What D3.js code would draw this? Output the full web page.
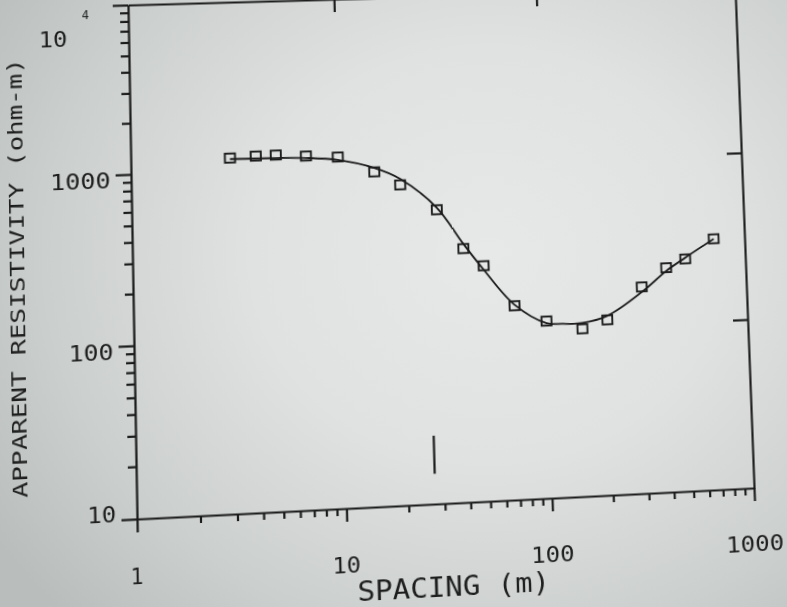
<!DOCTYPE html>
<html>
<head>
<meta charset="utf-8">
<script src="https://cdn.jsdelivr.net/npm/d3@7"></script>
<style>
  html, body { margin: 0; padding: 0; }
  body {
    width: 787px; height: 607px; overflow: hidden; position: relative;
    background: radial-gradient(ellipse 75% 85% at 62% 42%, #e7e9e8 0%, #e0e2e1 40%, #cbcfce 75%, #b9bebd 100%);
  }
  #sheet { position: absolute; left: 0; top: 0; transform-origin: 0 0; }
  #sheet svg { overflow: visible; display: block; }
  .lbl { font-family: "DejaVu Sans Mono", monospace; fill: #1e1e1e; }
</style>
</head>
<body>
<div id="sheet"></div>
<script>
// sounding data: spacing (m) vs apparent resistivity (ohm-m)
const obsSpacing = [3, 4, 5, 7, 10, 15, 20, 30, 40, 50, 70, 100, 150, 200, 300, 400, 500, 700];
const obsRho     = [1190, 1208, 1213, 1180, 1147, 920, 761, 532, 309, 242, 138, 110, 97, 108, 166, 213, 238, 309];

// fitted model curve
const fitSpacing = [3, 5, 7, 10, 15, 20, 30, 40, 50, 70, 100, 120, 150, 200, 300, 400, 500, 700];
const fitRho     = [1174, 1165, 1149, 1101, 971, 826, 547, 330, 229, 140, 107, 105, 105, 114, 155, 204, 242, 309];

// short vertical mark inside the plot
const markSpacing = [27];
const markRho = [15, 25];

const xMajor = [1, 10, 100, 1000];
const xLabels = ["1", "10", "100", "1000"];
const yMajor = [10, 100, 1000, 10000];
const yLabels = ["10", "100", "1000", "10"];
const topTicks = [10, 100];
const rightTicks = [100, 1000];

const W = 787, H = 607, PAD = 60;
// plot box in drawing coords, then bent onto the photographed (keystoned) frame
var SRC = { L: 132, T: -3, R: 745, B: 504 };
var QUAD = [[128, 5], [735, -12], [754, 488], [137, 519]]; // TL, TR, BR, BL
var INK = "#1b1b1b";
var CELL = 15.5;   // plotter character cell width

var squareToQuad = function( q )
{
    var x0 = q[0][0], y0 = q[0][1], x1 = q[1][0], y1 = q[1][1];
    var x2 = q[2][0], y2 = q[2][1], x3 = q[3][0], y3 = q[3][1];
    var dx1 = x1 - x2, dx2 = x3 - x2, dx3 = x0 - x1 + x2 - x3;
    var dy1 = y1 - y2, dy2 = y3 - y2, dy3 = y0 - y1 + y2 - y3;
    var den = dx1 * dy2 - dx2 * dy1;
    var g = (dx3 * dy2 - dx2 * dy3) / den;
    var h = (dx1 * dy3 - dx3 * dy1) / den;
    return [[x1 - x0 + g * x1, x3 - x0 + h * x3, x0],
            [y1 - y0 + g * y1, y3 - y0 + h * y3, y0],
            [g, h, 1]];
}

var mul = function( a, b )
{
    var r = [[0,0,0],[0,0,0],[0,0,0]];
    for (var i = 0; i < 3; i++)
        for (var j = 0; j < 3; j++)
            for (var k = 0; k < 3; k++)
                r[i][j] += a[i][k] * b[k][j];
    return r;
}

var applyKeystone = function()
{
    var w = SRC.R - SRC.L, h = SRC.B - SRC.T;
    // div-local coords -> unit square
    var S = [[1 / w, 0, (-SRC.L - PAD) / w],
             [0, 1 / h, (-SRC.T - PAD) / h],
             [0, 0, 1]];
    var M = mul(squareToQuad(QUAD), S);
    var m = [M[0][0], M[1][0], 0, M[2][0],
             M[0][1], M[1][1], 0, M[2][1],
             0, 0, 1, 0,
             M[0][2], M[1][2], 0, M[2][2]];
    d3.select("#sheet").style("transform", "matrix3d(" + m.join(",") + ")");
}

// stretch glyphs to the wide plotter cell
var plotterText = function( sel, size, cell )
{
    sel.attr("class", "lbl")
        .style("font-size", size + "px")
        .attr("lengthAdjust", "spacingAndGlyphs")
        .attr("textLength", function(){
            return this.textContent.length * cell - 3;
        });
}

var draw = function()
{
    var svg = d3.select("#sheet").append("svg")
        .attr("width", W + 2 * PAD)
        .attr("height", H + 2 * PAD);

    var g = svg.append("g")
        .attr("transform", "translate(" + PAD + "," + PAD + ")");

    var x = d3.scaleLog().domain([1, 1000]).range([SRC.L, SRC.R]);
    var y = d3.scaleLog().domain([10, 10000]).range([SRC.B, SRC.T]);

    var xMinor = x.ticks().filter(function(v){ return xMajor.indexOf(v) < 0; });
    var yMinor = y.ticks().filter(function(v){ return yMajor.indexOf(v) < 0; });

    var styleAxis = function( sel, keepDomain )
    {
        sel.attr("color", INK);
        sel.selectAll("line, path").attr("stroke-width", 2.2);
        if ( !keepDomain ) sel.select(".domain").remove();
    }

    // frame + ticks
    g.append("g").attr("transform", "translate(0," + SRC.B + ")")
        .call(d3.axisBottom(x).tickValues(xMajor).tickSize(13).tickSizeOuter(0).tickFormat(""))
        .call(styleAxis, true);
    g.append("g").attr("transform", "translate(0," + SRC.B + ")")
        .call(d3.axisBottom(x).tickValues(xMinor).tickSize(7).tickFormat(""))
        .call(styleAxis, false);
    g.append("g").attr("transform", "translate(" + SRC.L + ",0)")
        .call(d3.axisLeft(y).tickValues(yMajor).tickSize(15).tickSizeOuter(0).tickFormat(""))
        .call(styleAxis, true);
    g.append("g").attr("transform", "translate(" + SRC.L + ",0)")
        .call(d3.axisLeft(y).tickValues(yMinor).tickSize(8).tickFormat(""))
        .call(styleAxis, false);
    g.append("g").attr("transform", "translate(0," + SRC.T + ")")
        .call(d3.axisTop(x).tickValues(topTicks).tickSize(-13).tickSizeOuter(0).tickFormat(""))
        .call(styleAxis, true);
    g.append("g").attr("transform", "translate(" + SRC.R + ",0)")
        .call(d3.axisRight(y).tickValues(rightTicks).tickSize(-15).tickSizeOuter(0).tickFormat(""))
        .call(styleAxis, true);

    // x tick labels
    g.selectAll("text.xlab")
        .data(xMajor)
        .enter()
        .append("text")
        .text(function(d, i){ return xLabels[i]; })
        .call(plotterText, 21, CELL)
        .attr("x", function(d){ return x(d) - 1; })
        .attr("y", SRC.B + 63)
        .attr("text-anchor", "middle");

    // y tick labels (top one sits lower, plotter style, with exponent)
    var last = yMajor.length - 1;
    g.selectAll("text.ylab")
        .data(yMajor)
        .enter()
        .append("text")
        .text(function(d, i){ return yLabels[i]; })
        .call(plotterText, 21, CELL)
        .attr("x", function(d, i){ return i == last ? SRC.L - 60 : SRC.L - 20; })
        .attr("y", function(d, i){
            if ( i == 0 ) return y(d) - 5 + 7.5;
            if ( i == last ) return y(d) + 33 + 7.5;
            return y(d) + 6 + 7.5;
        })
        .attr("text-anchor", "end");

    g.append("text")
        .text("4")
        .call(plotterText, 13, 10)
        .attr("x", SRC.L - 42)
        .attr("y", SRC.T + 13)
        .attr("text-anchor", "middle");

    // axis titles
    g.append("text")
        .text("SPACING (m)")
        .call(plotterText, 26, 17.6)
        .attr("x", (SRC.L + SRC.R) / 2 + 2)
        .attr("y", SRC.B + 91)
        .attr("text-anchor", "middle");

    var ty = (SRC.T + SRC.B) / 2 + 12;
    g.append("text")
        .text("APPARENT RESISTIVITY (ohm-m)")
        .call(plotterText, 20, CELL)
        .attr("transform", "translate(" + (SRC.L - 112 + 7.3) + "," + ty + ") rotate(-90)")
        .attr("text-anchor", "middle");

    // fitted curve
    var fit = fitSpacing.map(function(s, i){ return [s, fitRho[i]]; });
    g.append("path")
        .datum(fit)
        .attr("fill", "none")
        .attr("stroke", INK)
        .attr("stroke-width", 1.8)
        .attr("d", d3.line()
              .x(function(d){ return x(d[0]); })
              .y(function(d){ return y(d[1]); })
              .curve(d3.curveCatmullRom));

    // observed points
    var obs = obsSpacing.map(function(s, i){ return [s, obsRho[i]]; });
    g.selectAll("rect.obs")
        .data(obs)
        .enter()
        .append("rect")
        .classed("obs", true)
        .attr("x", function(d){ return x(d[0]) - 5; })
        .attr("y", function(d){ return y(d[1]) - 4.5; })
        .attr("width", 10)
        .attr("height", 9)
        .attr("fill", "none")
        .attr("stroke", INK)
        .attr("stroke-width", 1.9);

    // vertical mark
    g.append("line")
        .attr("x1", x(markSpacing[0]))
        .attr("x2", x(markSpacing[0]))
        .attr("y1", y(markRho[0]))
        .attr("y2", y(markRho[1]))
        .attr("stroke", INK)
        .attr("stroke-width", 2.2);

    applyKeystone();
}

draw();
</script>
</body>
</html>
